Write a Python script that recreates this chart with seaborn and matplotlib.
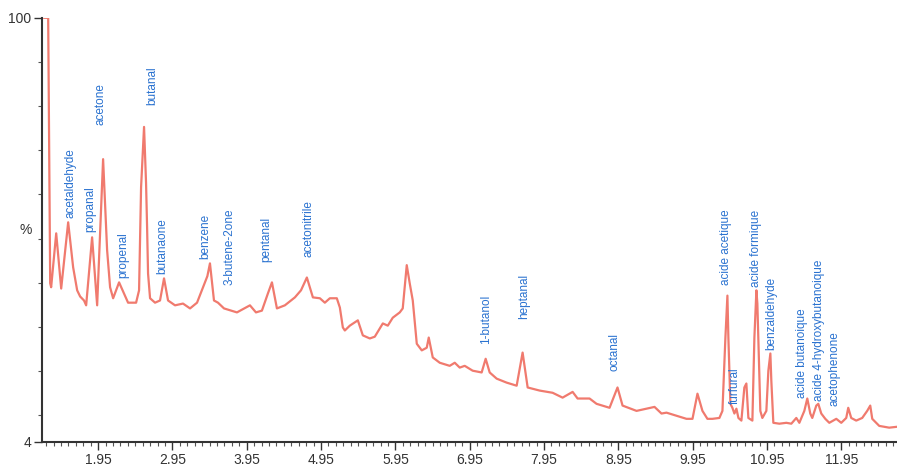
#!/usr/bin/env python3
# Chromatogram with labelled peaks

import numpy as np
import pandas as pd
import seaborn as sns
import matplotlib.pyplot as plt
from matplotlib.ticker import MultipleLocator, FixedLocator

sns.set_style("ticks")
plt.rcParams['font.family'] = ['Liberation Sans', 'DejaVu Sans']

LINE = "#f07a6e"
LABEL = "#2a72d0"

# retention time (min) and relative intensity (%)
time = [
    1.22, 1.278, 1.305, 1.318, 1.386, 1.453, 1.547, 1.614, 1.668, 1.708,
    1.76, 1.789, 1.869, 1.937, 2.017, 2.071, 2.111, 2.152, 2.232, 2.353,
    2.461, 2.501, 2.528, 2.568, 2.595, 2.609, 2.622, 2.649, 2.716, 2.783,
    2.837, 2.891, 2.985, 3.092, 3.187, 3.281, 3.42, 3.455, 3.509, 3.563,
    3.644, 3.818, 3.993, 4.074, 4.154, 4.235, 4.289, 4.356, 4.463, 4.598,
    4.68, 4.759, 4.840, 4.934, 5.001, 5.068, 5.162, 5.203, 5.243, 5.270,
    5.337, 5.445, 5.512, 5.606, 5.673, 5.781, 5.848, 5.915, 6.009, 6.049,
    6.103, 6.143, 6.184, 6.238, 6.305, 6.372, 6.399, 6.453, 6.547, 6.681,
    6.749, 6.816, 6.883, 6.990, 7.111, 7.165, 7.219, 7.313, 7.447, 7.582,
    7.662, 7.730, 7.891, 8.066, 8.200, 8.335, 8.402, 8.563, 8.657, 8.832,
    8.939, 9.007, 9.195, 9.437, 9.531, 9.598, 9.733, 9.867, 9.948, 10.015,
    10.082, 10.149, 10.216, 10.310, 10.351, 10.391, 10.418, 10.431, 10.458, 10.485,
    10.512, 10.539, 10.566, 10.606, 10.646, 10.673, 10.700, 10.754, 10.781, 10.808,
    10.821, 10.861, 10.888, 10.942, 10.969, 10.996, 11.009, 11.036, 11.117, 11.211,
    11.278, 11.345, 11.386, 11.453, 11.493, 11.533, 11.560, 11.614, 11.641, 11.681,
    11.735, 11.789, 11.883, 11.950, 12.017, 12.044, 12.084, 12.151, 12.232, 12.299,
    12.340, 12.367, 12.461, 12.595, 12.70,
]
intensity = [
    100, 100, 39.9, 39.0, 51.2, 38.7, 53.7, 43.5, 38.3, 36.9,
    36.0, 34.9, 50.3, 34.9, 68.0, 47.4, 39.0, 36.5, 40.1, 35.5,
    35.5, 38.3, 61.6, 75.3, 62.6, 52.6, 42.1, 36.5, 35.5, 36.0,
    41.0, 36.0, 34.9, 35.3, 34.2, 35.5, 41.5, 44.4, 36.0, 35.5,
    34.2, 33.3, 34.9, 33.3, 33.7, 37.6, 40.1, 34.2, 34.9, 36.7,
    38.3, 41.2, 36.7, 36.5, 35.5, 36.5, 36.5, 34.4, 29.9, 29.2,
    30.3, 31.5, 28.1, 27.4, 27.8, 30.8, 30.3, 32.1, 33.3, 34.2,
    44.0, 39.9, 36.0, 26.2, 24.7, 25.3, 27.6, 23.1, 21.9, 21.2,
    21.9, 20.8, 21.2, 20.1, 19.7, 22.8, 19.7, 18.3, 17.4, 16.7,
    24.2, 16.3, 15.6, 15.1, 14.0, 15.3, 13.8, 13.8, 12.6, 11.7,
    16.3, 12.2, 11.0, 11.9, 10.4, 10.6, 9.9, 9.2, 9.2, 14.9,
    11.0, 9.2, 9.2, 9.4, 11.0, 27.6, 37.1, 27.6, 12.6, 11.7,
    10.4, 11.5, 9.4, 8.8, 16.3, 17.2, 9.4, 8.8, 27.6, 38.3,
    35.3, 11.0, 9.4, 11.0, 20.1, 24.0, 17.8, 8.3, 8.1, 8.3,
    8.1, 9.4, 8.3, 11.0, 13.8, 10.4, 9.4, 12.2, 12.6, 10.4,
    9.2, 8.3, 9.2, 8.3, 9.4, 11.7, 9.4, 8.8, 9.4, 11.0,
    12.2, 9.2, 7.6, 7.2, 7.4,
]

# peak labels: name, time at label centre, intensity at label foot
peak_names = [
    "acetaldehyde", "propanal", "acetone", "propenal", "butanal",
    "butanaone", "benzene", "3-butene-2one", "pentanal", "acetonitrile",
    "1-butanol", "heptanal", "octanal", "acide acetique", "furfural",
    "acide formique", "benzaldehyde", "acide butanoique",
    "acide 4-hydroxybutanoique", "acetophenone",
]
peak_time = [
    1.574, 1.842, 1.977, 2.286, 2.676,
    2.810, 3.388, 3.724, 4.208, 4.786,
    7.165, 7.676, 8.899, 10.405, 10.525,
    10.808, 11.009, 11.426,
    11.655, 11.856,
]
peak_height = [
    54.6, 51.4, 75.7, 41.0, 80.3,
    42.1, 45.5, 39.4, 44.6, 45.8,
    26.2, 31.9, 20.1, 39.4, 12.6,
    39.0, 24.7, 14.0,
    13.3, 12.2,
]

df = pd.DataFrame({"time": time, "intensity": intensity})

fig = plt.figure(figsize=(8.97, 4.69), dpi=100)
ax = fig.add_axes([0.047, 0.058, 0.953, 0.904])

sns.lineplot(data=df, x="time", y="intensity", color=LINE, lw=1.6,
             estimator=None, sort=False, ax=ax)

for name, t, h in zip(peak_names, peak_time, peak_height):
    ax.text(t, h, name, rotation=90, ha="center", va="bottom",
            fontsize=8.5, color=LABEL)

ax.set_xlim(1.197, 12.70)
ax.set_ylim(4, 100)
sns.despine(ax=ax)
for s in ("left", "bottom"):
    ax.spines[s].set_color("#333333")
    ax.spines[s].set_linewidth(1.5)

ax.xaxis.set_major_locator(FixedLocator(np.arange(1.95, 12.0, 1.0)))
ax.xaxis.set_minor_locator(FixedLocator(np.arange(1.25, 12.7, 0.1)))
ax.set_xticklabels(["%.2f" % v for v in np.arange(1.95, 12.0, 1.0)])
ax.yaxis.set_major_locator(FixedLocator([4, 100]))
ax.yaxis.set_minor_locator(MultipleLocator(10))
ax.set_yticklabels(["4", "100"])
ax.tick_params(axis="both", which="major", labelsize=10, colors="#333333",
               length=6, width=1, pad=2)
ax.tick_params(axis="both", which="minor", length=3, width=0.8, colors="#555555")
ax.text(-0.012, 0.5, "%", transform=ax.transAxes, ha="right", va="center",
        fontsize=10, color="#333333")

ax.set_xlabel("")
ax.set_ylabel("")

fig.savefig("out.png", dpi=100)
